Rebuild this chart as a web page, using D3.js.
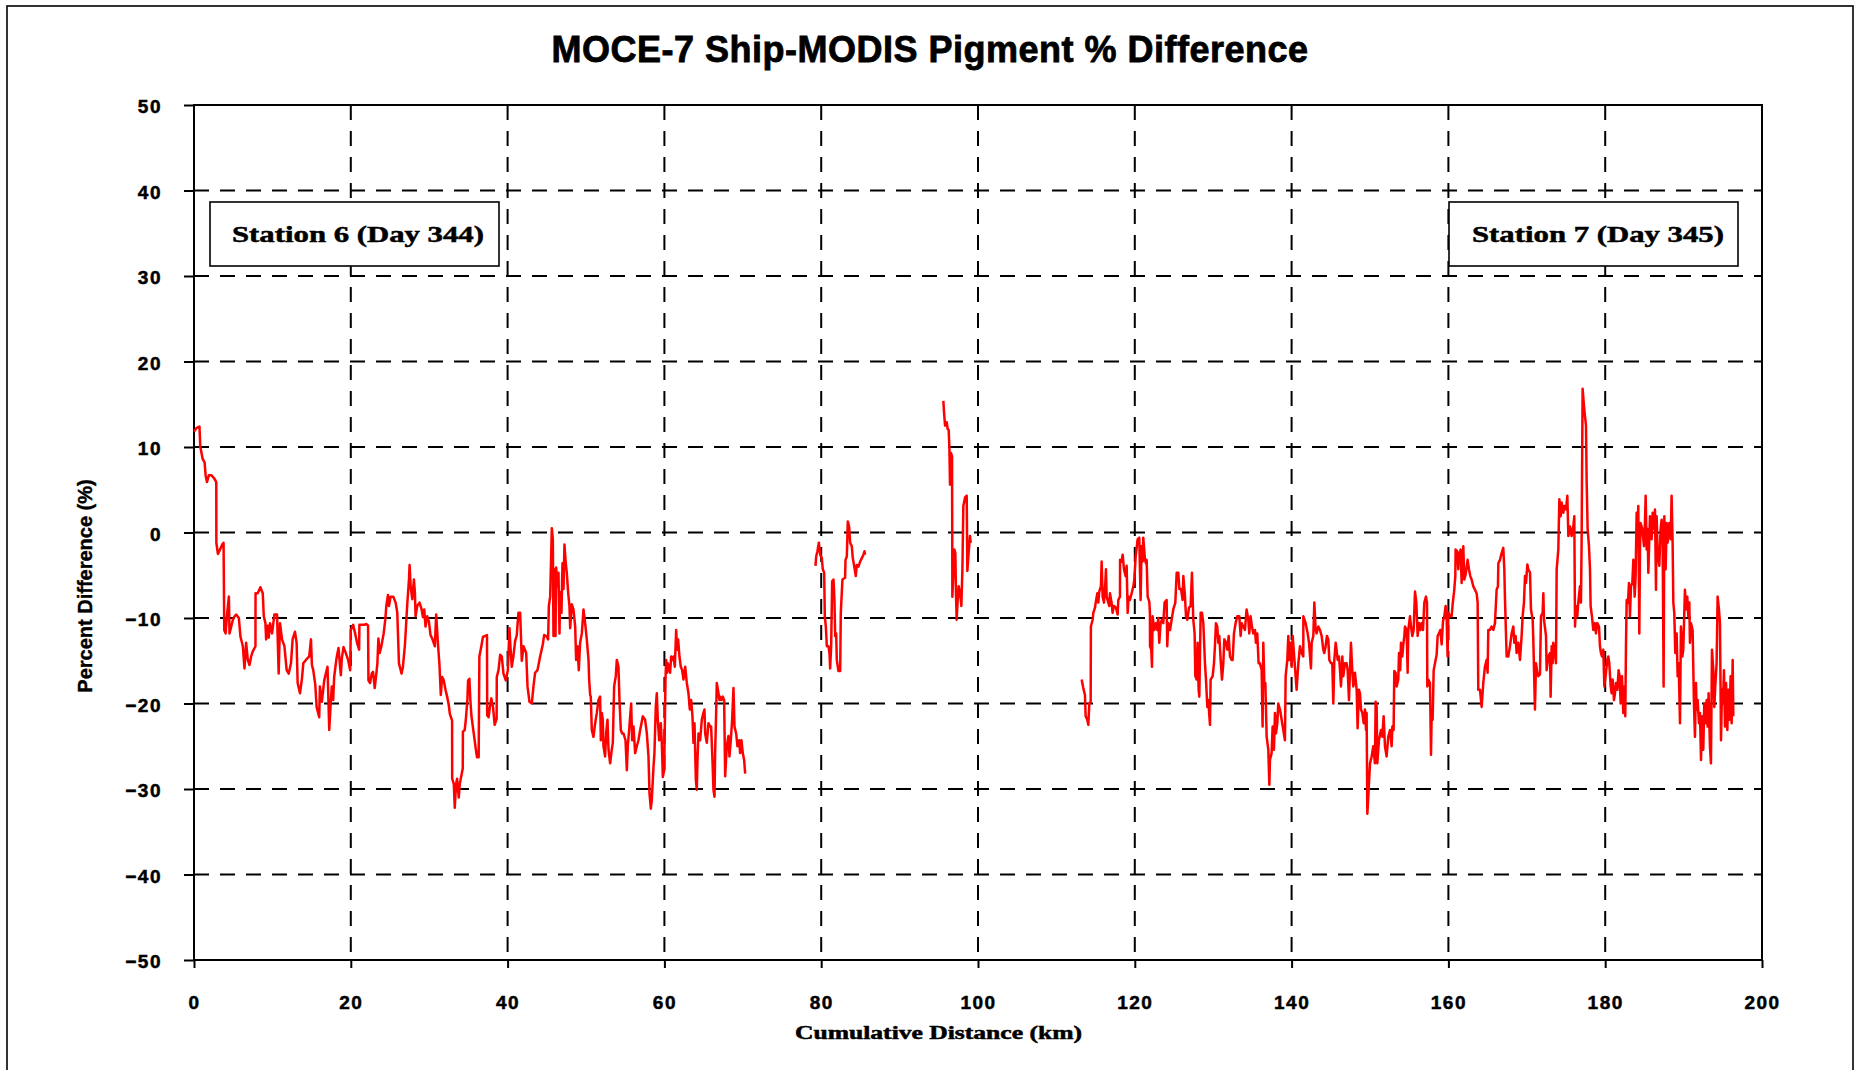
<!DOCTYPE html>
<html>
<head>
<meta charset="utf-8">
<script src="https://cdn.jsdelivr.net/npm/d3@7"></script>
<style>
  html, body { margin: 0; padding: 0; background: #fff; }
  svg { display: block; }
</style>
</head>
<body>
<svg id="chart" width="1857" height="1070"></svg>
<script>
// Ship-minus-satellite pigment percent difference along the cruise track, km vs %
const chartTitle = "MOCE-7 Ship-MODIS Pigment % Difference";
const xTitle = "Cumulative Distance (km)";
const yTitle = "Percent Difference (%)";
const xTicks = [0, 20, 40, 60, 80, 100, 120, 140, 160, 180, 200];
const yTicks = [-50, -40, -30, -20, -10, 0, 10, 20, 30, 40, 50];
const stationNotes = ["Station 6 (Day 344)", "Station 7 (Day 345)"];

// Transect leg 1 (Station 6, first part) [km, %]
const leg1 = [[0,11.8],[0.3,12.2],[0.7,12.4],[0.8,10],[0.9,9.6],[1.1,8.6],[1.35,8.2],[1.48,6.7],[1.65,5.9],[1.9,6.7],[2.2,6.7],[2.6,6.3],[2.84,5.9],[2.85,-1.2],[3.05,-2.5],[3.26,-2.1],[3.6,-1.4],[3.77,-1.2],[3.86,-11.4],[4.03,-11.8],[4.24,-9.4],[4.45,-7.5],[4.53,-11.8],[4.75,-11],[4.96,-10.2],[5.17,-9.8],[5.38,-9.6],[5.72,-10],[5.93,-12.2],[6.23,-13.3],[6.44,-15.9],[6.65,-12.9],[6.86,-14.9],[7.08,-15.5],[7.29,-14.5],[7.5,-13.9],[7.84,-13.3],[7.85,-7.1],[8.13,-7.1],[8.47,-6.4],[8.77,-7.1],[8.9,-9.8],[9.11,-10.6],[9.2,-12.5],[9.41,-10.9],[9.53,-12.3],[9.7,-10.6],[9.96,-11.8],[10.25,-9.6],[10.59,-9.6],[10.8,-16.5],[10.97,-10.6],[11.23,-12.5],[11.53,-13.3],[11.82,-16.1],[12.08,-16.5],[12.37,-15.3],[12.58,-12.5],[12.88,-11.6],[13.09,-12.9],[13.22,-17.6],[13.52,-18.8],[13.77,-17.1],[13.94,-15.3],[14.28,-14.9],[14.7,-14.5],[14.92,-12.5],[15.04,-15.5],[15.21,-16.1],[15.47,-17.8],[15.64,-20.4],[15.97,-21.6],[16.06,-18],[16.31,-19.8],[16.61,-17.3],[16.82,-16.5],[17.03,-15.7],[17.25,-23.1],[17.46,-19.6],[17.58,-18],[17.75,-19.6],[17.88,-16.9],[18.18,-14.7],[18.43,-13.5],[18.73,-16.7],[18.86,-14.7],[19.07,-13.4],[19.36,-14.1],[19.66,-14.9],[19.92,-16.1],[20,-11.4],[20.3,-10.8],[20.55,-11.8],[20.8,-12.9],[21.06,-13.7],[21.1,-10.8],[21.7,-10.8],[22,-10.7],[22.2,-10.9],[22.25,-17.3],[22.46,-17.6],[22.67,-16.5],[22.84,-16.3],[23.05,-18.2],[23.26,-16.5],[23.39,-15.3],[23.52,-12.4],[23.69,-14.1],[23.9,-13.3],[24.19,-11.8],[24.4,-10.2],[24.53,-8.6],[24.74,-7.3],[24.87,-8.6],[25.08,-7.5],[25.42,-7.5],[25.72,-8.2],[25.93,-9.4],[26.14,-15.3],[26.48,-16.5],[26.65,-15.7],[26.91,-13.1],[27.2,-8.4],[27.42,-5.5],[27.5,-3.8],[27.63,-6.3],[27.84,-7.8],[28.05,-5.5],[28.18,-7.1],[28.26,-9.8],[28.47,-8.6],[28.77,-8.2],[29.03,-9],[29.2,-9.9],[29.37,-9],[29.53,-11],[29.75,-9.8],[29.96,-10.4],[30.17,-12],[30.38,-12.4],[30.72,-13.3],[30.89,-9.6],[31.14,-13.3],[31.31,-15.5],[31.48,-19],[31.65,-16.9],[31.86,-17.3],[32.08,-18.4],[32.29,-19.2],[32.5,-20.2],[32.63,-21.2],[32.92,-22],[32.93,-28.8],[33.14,-29.4],[33.26,-32.2],[33.43,-29.4],[33.56,-28.8],[33.77,-31],[33.9,-29.4],[34.07,-28.6],[34.28,-27.6],[34.3,-23.3],[34.53,-23.1],[34.66,-22],[34.87,-19.6],[34.96,-17.3],[35.13,-17.1],[35.25,-19.6],[35.38,-21.4],[35.68,-23.5],[35.97,-25.5],[36.1,-26.3],[36.31,-26.3],[36.4,-14.5],[36.65,-13.3],[36.86,-12.2],[37.37,-12],[37.4,-21.4],[37.58,-21.6],[37.71,-20.6],[37.92,-19.4],[38.14,-20.4],[38.35,-22.5],[38.6,-21.8],[38.62,-16.9],[38.84,-16.1],[39.05,-14.3],[39.26,-14.5],[39.47,-16.5],[39.77,-17.3],[40.03,-16.1],[40.24,-11.2],[40.36,-13.3],[40.53,-15.7],[40.74,-14.5],[40.96,-12.7],[41.17,-12],[41.38,-9.4],[41.6,-9.4],[41.81,-15],[42.03,-13.3],[42.37,-14.1],[42.54,-18],[42.79,-19.8],[43.09,-20],[43.3,-18],[43.51,-16.4],[43.81,-16.1],[44.15,-14.5],[44.49,-13.1],[44.66,-12],[44.92,-12.1],[45.17,-12.5],[45.26,-8.6],[45.43,-7.5],[45.64,0.5],[45.77,-0.8],[45.85,-12.1],[45.98,-4.3],[46.11,-12.1],[46.19,-4.1],[46.36,-6.3],[46.49,-4.7],[46.62,-11.8],[46.7,-7],[46.87,-9.4],[47,-3.6],[47.13,-6.6],[47.25,-1.4],[47.42,-3.6],[47.55,-4.7],[47.72,-7],[47.89,-8.6],[47.98,-11.2],[48.19,-8.4],[48.4,-9],[48.62,-11],[48.74,-14.9],[48.91,-13.3],[49.08,-16.1],[49.25,-12.9],[49.47,-11.8],[49.68,-9],[49.89,-10.6],[50.1,-12.5],[50.32,-14.9],[50.4,-17.2],[50.53,-19],[50.61,-19.2],[50.74,-23.1],[50.95,-23.9],[51.17,-22.3],[51.38,-21.1],[51.59,-19.6],[51.8,-19.2],[51.89,-24.3],[52.02,-21.1],[52.14,-21.9],[52.23,-25],[52.44,-26.2],[52.57,-23.5],[52.74,-21.9],[52.87,-25.4],[53.08,-27],[53.29,-25.4],[53.42,-24.6],[53.59,-18],[53.8,-16.8],[53.93,-14.9],[54.14,-15.7],[54.27,-19.6],[54.44,-23.1],[54.61,-23.5],[54.78,-23.5],[55.04,-24.3],[55.21,-27.8],[55.33,-25],[55.5,-23.1],[55.76,-20],[55.89,-24.3],[56.06,-22.7],[56.27,-25.8],[56.48,-25],[56.69,-24.3],[56.91,-23.1],[57.25,-21.5],[57.54,-21.9],[57.76,-23.5],[57.97,-26.2],[58.1,-30.5],[58.27,-32.3],[58.39,-31.3],[58.61,-27.4],[58.73,-25.8],[58.9,-20.4],[59.03,-18.8],[59.16,-21.9],[59.33,-24.3],[59.54,-22.3],[59.67,-24.6],[59.8,-28.6],[59.97,-27.8],[60.14,-17.2],[60.22,-14.9],[60.35,-16.4],[60.43,-15.3],[60.6,-15.7],[60.73,-16.4],[60.86,-14.5],[61.03,-14.9],[61.16,-14.5],[61.33,-15.7],[61.5,-11.4],[61.63,-13.7],[61.75,-12.5],[61.92,-14.5],[62.09,-15.7],[62.26,-16.1],[62.43,-17.2],[62.65,-15.7],[62.86,-17.6],[63.07,-18.8],[63.24,-20.7],[63.41,-19.6],[63.58,-21.5],[63.71,-24.6],[63.84,-22.3],[64.01,-28.9],[64.13,-30.1],[64.22,-26.6],[64.35,-23.5],[64.56,-24.3],[64.77,-21.9],[64.98,-21.1],[65.11,-20.7],[65.2,-23.5],[65.41,-24.6],[65.62,-22.3],[65.83,-22.7],[65.96,-22.7],[66.13,-26.6],[66.26,-30.1],[66.39,-30.9],[66.47,-25.8],[66.6,-21.1],[66.68,-17.6],[66.9,-18.8],[67.02,-19.6],[67.11,-19.2],[67.28,-19.6],[67.45,-19.2],[67.62,-19.6],[67.75,-28.5],[67.96,-25],[68.17,-23.8],[68.3,-26.2],[68.47,-24.3],[68.64,-21.9],[68.81,-18.2],[68.94,-22.7],[69.15,-23.5],[69.32,-25],[69.53,-24.3],[69.66,-25.8],[69.83,-24.3],[70,-25.8],[70.17,-26.6],[70.3,-28.2]];

// Transect leg 2 [km, %]
const leg2 = [[79.27,-3.9],[79.36,-2.8],[79.52,-2.2],[79.7,-1.2],[79.87,-2.6],[80.08,-3],[80.2,-4.3],[80.38,-4.7],[80.46,-9.8],[80.59,-11],[80.72,-13.3],[80.93,-13.3],[81.06,-14.1],[81.14,-15.9],[81.27,-13.3],[81.4,-5.7],[81.57,-5.5],[81.69,-7.9],[81.78,-12.1],[81.91,-11.8],[81.99,-14.9],[82.2,-16.2],[82.42,-16.2],[82.5,-9.4],[82.71,-5.5],[83.05,-5.3],[83.1,-3.2],[83.27,-2.8],[83.39,1.3],[83.56,0.7],[83.69,-1.2],[83.9,-1.6],[84.03,-3],[84.24,-4.1],[84.41,-5.1],[84.54,-3.8],[84.75,-4],[84.97,-3.4],[85.18,-3],[85.39,-2.6],[85.52,-2.2],[85.6,-2.6]];

// Transect leg 3 [km, %]
const leg3 = [[95.58,15.4],[95.67,14],[95.8,12.5],[96.01,12.9],[96.13,12.1],[96.26,12],[96.35,9.9],[96.43,5.6],[96.56,9.3],[96.69,8.9],[96.73,-7.5],[96.86,-4.7],[96.99,-2],[97.11,-2.4],[97.2,-7.5],[97.28,-10.2],[97.41,-7.9],[97.54,-6.3],[97.71,-7.1],[97.88,-8.6],[98.01,-4.3],[98.13,3.1],[98.35,4.1],[98.56,4.3],[98.64,-4.5],[98.77,-2.8],[98.98,-0.4],[99.07,-1.2]];

// Transect leg 4 (toward Station 7) [km, %]
const leg4 = [[113.22,-17.2],[113.43,-18.2],[113.64,-19],[113.73,-21.5],[113.94,-21.9],[114.07,-22.5],[114.2,-20],[114.37,-19.8],[114.4,-11],[114.62,-10.2],[114.71,-9.4],[114.92,-8.8],[115.05,-8],[115.22,-7.1],[115.35,-8.2],[115.47,-6.9],[115.68,-6.3],[115.77,-3.4],[115.9,-7.5],[116.07,-8.2],[116.24,-5.9],[116.32,-4.3],[116.41,-7.5],[116.62,-8.2],[116.75,-8.6],[116.83,-7.1],[117.04,-8.2],[117.17,-9.4],[117.34,-8.6],[117.6,-8.8],[117.81,-9.6],[117.9,-7.9],[118.11,-7.5],[118.12,-3.2],[118.32,-3.4],[118.45,-2.6],[118.62,-4.3],[118.83,-5.1],[118.96,-3.9],[119.09,-9.4],[119.21,-7.5],[119.38,-7.9],[119.6,-7.1],[119.81,-6.3],[119.94,-5.5],[120.11,-2.8],[120.36,-0.8],[120.57,-0.6],[120.74,-7.9],[120.87,-1.6],[121,-3.4],[121.08,-0.6],[121.3,-3.2],[121.42,-3.6],[121.51,-3.2],[121.64,-7.5],[121.85,-8.1],[121.93,-9.4],[121.94,-13.3],[122.1,-13.7],[122.19,-15.7],[122.27,-9.8],[122.49,-11.4],[122.7,-10.6],[122.87,-11.4],[122.99,-10],[123.12,-12.9],[123.29,-10.6],[123.46,-10.2],[123.63,-10.6],[123.8,-8.2],[124.06,-7.9],[124.14,-13.3],[124.27,-10.6],[124.49,-11.4],[124.7,-10.2],[124.91,-9],[125.17,-8.2],[125.34,-4.7],[125.55,-4.7],[125.68,-6.6],[125.89,-6.6],[126.1,-7.9],[126.19,-5.1],[126.4,-7.5],[126.53,-9.8],[126.7,-10.2],[126.91,-8.8],[127.12,-8.6],[127.29,-4.7],[127.46,-10.2],[127.63,-11.8],[127.72,-16.8],[127.89,-17.2],[128.01,-12.9],[128.14,-18.4],[128.23,-19.2],[128.4,-9.4],[128.57,-9.4],[128.74,-10.6],[128.95,-15.3],[129.08,-17.2],[129.25,-20.4],[129.37,-19.6],[129.59,-22.5],[129.67,-17.2],[129.93,-16.8],[130.1,-15.3],[130.22,-13.3],[130.35,-10.6],[130.52,-11],[130.65,-12.9],[130.78,-12.1],[130.95,-14.9],[131.12,-17.2],[131.29,-15.3],[131.42,-12.5],[131.63,-12.9],[131.8,-13.7],[131.97,-12.1],[132.14,-14.5],[132.35,-14.9],[132.48,-14.9],[132.65,-11.8],[132.86,-10.6],[133.07,-9.8],[133.33,-9.8],[133.5,-12.1],[133.63,-10.6],[133.84,-11],[134.05,-11.4],[134.26,-9],[134.48,-10.2],[134.6,-11.8],[134.77,-9.8],[134.94,-11],[135.11,-11.8],[135.33,-11.4],[135.45,-12.9],[135.62,-11.8],[135.79,-15.3],[135.96,-15.3],[136.18,-16.1],[136.3,-22.7],[136.39,-12.9],[136.52,-17.6],[136.65,-17.6],[136.82,-23.9],[137.03,-25.4],[137.16,-29.5],[137.24,-26.6],[137.45,-25.8],[137.58,-22.7],[137.75,-25.4],[137.88,-21.1],[138.01,-23.5],[138.18,-22.3],[138.3,-20],[138.52,-20.7],[138.73,-21.9],[138.94,-23.1],[139.15,-24.3],[139.24,-16.8],[139.45,-14.9],[139.58,-12.1],[139.71,-14.9],[139.88,-12.9],[140.01,-15.7],[140.14,-12.1],[140.64,-18.4],[140.86,-15.3],[141.07,-13.3],[141.28,-14.1],[141.49,-14.5],[141.5,-9.8],[141.79,-10.6],[142.05,-11.8],[142.22,-12.9],[142.47,-15.9],[142.56,-12.9],[142.77,-12.1],[142.9,-8.2],[143.07,-11.4],[143.19,-11.8],[143.41,-11],[143.62,-11.4],[143.83,-12.1],[144.04,-13.7],[144.17,-14.1],[144.34,-13.3],[144.51,-12.1],[144.68,-12.5],[144.81,-14.9],[145.02,-15.3],[145.19,-15.3],[145.32,-20],[145.45,-14.9],[145.62,-12.9],[145.74,-13.7],[145.87,-14.9],[146.04,-14.5],[146.17,-16.1],[146.3,-18],[146.47,-14.5],[146.6,-16.8],[146.81,-15.3],[147.02,-15.3],[147.15,-16.1],[147.32,-19.6],[147.57,-12.9],[147.74,-16.1],[147.87,-18],[148.08,-16.4],[148.3,-18.4],[148.42,-22.9],[148.59,-18.4],[148.72,-18.8],[148.85,-20.7],[149.02,-21.1],[149.19,-22.3],[149.36,-20.7],[149.49,-23.1],[149.57,-21.1],[149.66,-32.9],[149.78,-30.9],[150,-27],[150.21,-26.2],[150.42,-25],[150.63,-27],[150.72,-19.8],[150.85,-20.4],[150.93,-27],[151.14,-24.3],[151.4,-23.1],[151.57,-23.9],[151.74,-21.5],[151.91,-25],[152.12,-26.2],[152.33,-23.9],[152.55,-23.1],[152.76,-25],[152.85,-22.7],[153.01,-23.1],[153.1,-16.2],[153.27,-16.4],[153.4,-18],[153.61,-17.2],[153.7,-14.1],[153.86,-16.1],[153.95,-12.9],[154.12,-14.5],[154.25,-13.1],[154.38,-12.1],[154.46,-11],[154.67,-11.4],[154.8,-16.4],[154.89,-11.4],[155.1,-9.8],[155.23,-11],[155.4,-12.1],[155.57,-11.4],[155.74,-6.9],[155.91,-8.2],[156.08,-12.1],[156.25,-10.6],[156.42,-11.4],[156.59,-10.6],[156.76,-11.4],[156.93,-8.2],[157.14,-7.5],[157.27,-8.2],[157.31,-18],[157.44,-17.2],[157.65,-17.6],[157.78,-26],[157.86,-21.5],[157.99,-21.9],[158.12,-16.1],[158.29,-15.3],[158.5,-14.3],[158.63,-12.1],[158.8,-11.8],[158.97,-11.4],[159.14,-13.1],[159.31,-10.4],[159.48,-9.8],[159.65,-8.6],[159.77,-9.8],[159.9,-14.5],[159.99,-9.4],[160.2,-9.8],[160.41,-9.8],[160.54,-8.4],[160.75,-6.7],[160.88,-5.1],[160.92,-2],[161.14,-2.2],[161.26,-4.3],[161.35,-2.8],[161.56,-2],[161.69,-5.9],[161.9,-1.6],[162.03,-5.5],[162.2,-4.9],[162.45,-3.2],[162.62,-4.3],[162.79,-5.1],[162.96,-5.5],[163.18,-6.3],[163.39,-6.7],[163.6,-7.1],[163.73,-8.2],[163.81,-18.4],[164.03,-18.4],[164.24,-20.4],[164.45,-17.6],[164.66,-15.7],[164.88,-14.9],[165,-16.4],[165.09,-11.4],[165.3,-11.4],[165.51,-11],[165.73,-11.4],[165.94,-10.6],[166.15,-6.7],[166.32,-6.3],[166.37,-3.6],[166.58,-3.2],[166.79,-2.4],[167,-1.8],[167.13,-4.3],[167.22,-7.9],[167.43,-14.5],[167.64,-14.5],[167.85,-13.3],[168.07,-11.8],[168.28,-11],[168.41,-12.9],[168.58,-12.1],[168.7,-14.1],[168.92,-12.9],[169.13,-14.9],[169.34,-12.1],[169.47,-9.8],[169.64,-8.2],[169.77,-5.1],[169.9,-5.9],[170.07,-3.75],[170.19,-4.3],[170.41,-4.7],[170.53,-9],[170.75,-10.2],[170.83,-12.5],[171.04,-20.7],[171.17,-15.3],[171.34,-16.4],[171.47,-16.8],[171.68,-16.6],[171.81,-9.8],[172.02,-9.4],[172.11,-7.1],[172.19,-10.2],[172.45,-12.1],[172.53,-16.1],[172.74,-14.5],[172.96,-14.1],[173.04,-19.2],[173.17,-13.3],[173.3,-15.3],[173.38,-12.9],[173.59,-14.1],[173.72,-15.3],[173.81,-4.3],[174.02,-2],[174.15,3.9],[174.32,1.9],[174.44,3.5],[174.66,2.3],[174.78,3.1],[175,2.7],[175.17,4.3],[175.3,-0.4],[175.51,0.7],[175.72,-0.4],[175.93,0.7],[176.06,1.9],[176.15,-11],[176.27,-8.6],[176.44,-9.8],[176.57,-8.2],[176.78,-6.3],[176.91,-8.2],[176.99,-1.2],[177.12,16.8],[177.29,14.8],[177.42,13.6],[177.55,12.5],[177.63,6.2],[177.76,0.4],[177.93,-1.6],[178.06,-4.3],[178.14,-8.6],[178.31,-9.8],[178.48,-11.4],[178.7,-10.6],[178.82,-11.8],[178.99,-10.6],[179.21,-11],[179.33,-13.3],[179.46,-14.1],[179.59,-14.5],[179.76,-13.7],[179.89,-18],[180.1,-16.4],[180.27,-14.9],[180.4,-14.5],[180.52,-15.3],[180.7,-18],[180.82,-18.8],[180.95,-17.2],[181.12,-19.6],[181.25,-18.8],[181.37,-17.6],[181.55,-18.4],[181.71,-16.1],[181.84,-16.8],[181.97,-20],[182.14,-16.8],[182.31,-21.1],[182.44,-18],[182.56,-21.5],[182.65,-13.3],[182.74,-7.9],[182.91,-8.2],[183.03,-5.9],[183.16,-9.8],[183.29,-6.3],[183.46,-5.9],[183.59,-3.2],[183.76,-7.5],[183.88,-5.1],[184.01,2.3],[184.14,0.7],[184.22,3.1],[184.35,-11.8],[184.44,-2],[184.52,1.1],[184.73,0.4],[184.95,-1.6],[185.07,1.1],[185.16,4.3],[185.29,-2],[185.41,0.4],[185.5,-4.7],[185.71,1.9],[185.92,-0.8],[186.05,2.3],[186.22,0.4],[186.35,2.7],[186.48,-6.7],[186.56,1.9],[186.69,-2.4],[186.9,-3.9],[187.07,0.4],[187.2,1.5],[187.33,-1.2],[187.45,-18],[187.54,1.9],[187.71,-4.3],[187.84,1.1],[187.96,-1.2],[188.18,1.1],[188.35,-0.8],[188.47,4.3],[188.6,-1.2],[188.69,-8.2],[188.81,-9.4],[188.94,-14.1],[189.11,-11.8],[189.24,-16.8],[189.37,-15.3],[189.54,-22.3],[189.66,-11],[189.84,-14.5],[189.96,-13.7],[190.17,-6.7],[190.3,-9],[190.47,-7.5],[190.6,-9.8],[190.73,-8.2],[190.81,-12.9],[190.94,-10.6],[191.15,-11.4],[191.32,-20],[191.45,-23.9],[191.58,-17.6],[191.66,-20.7],[191.79,-19.6],[191.96,-22.3],[192.09,-21.1],[192.22,-26.6],[192.34,-21.5],[192.51,-25.4],[192.64,-20],[192.81,-22.3],[192.94,-19.6],[193.07,-22.7],[193.19,-18.8],[193.36,-25],[193.49,-27],[193.62,-13.7],[193.79,-16.1],[193.92,-20.4],[194.04,-18],[194.21,-15.3],[194.34,-7.5],[194.51,-9],[194.64,-10.6],[194.77,-24.3],[194.9,-18.4],[195.02,-20],[195.15,-16.1],[195.28,-22.7],[195.41,-17.6],[195.58,-23.1],[195.7,-18.4],[195.83,-21.9],[196,-16.8],[196.13,-22.3],[196.26,-14.9],[196.34,-21.5]];

const legs = [leg1, leg2, leg3, leg4];

const svg = d3.select("#chart");
const plot = { left: 194, right: 1762, top: 105, bottom: 960 };

const x = d3.scaleLinear().domain([0, 200]).range([plot.left, plot.right]);
const y = d3.scaleLinear().domain([-50, 50]).range([plot.bottom, plot.top]);

// Outer chart frame (runs past the lower edge of the page)
svg.append("rect")
  .attr("x", 7).attr("y", 6).attr("width", 1846).attr("height", 1100)
  .attr("fill", "#fff").attr("stroke", "#000").attr("stroke-width", 1.6);

// Title
svg.append("text")
  .attr("x", 930).attr("y", 62)
  .attr("text-anchor", "middle")
  .style("font-family", "'Liberation Sans', Arial, sans-serif")
  .style("font-weight", "bold")
  .style("font-size", "36px")
  .style("letter-spacing", "0.5px")
  .attr("stroke", "#000").attr("stroke-width", 0.8)
  .text(chartTitle);

// Dashed grid
const grid = svg.append("g").attr("stroke", "#000").attr("stroke-width", 2)
  .attr("stroke-dasharray", "15,11").attr("fill", "none");
grid.selectAll("line.v").data(xTicks.slice(1, -1)).join("line")
  .attr("class", "v")
  .attr("x1", d => x(d)).attr("x2", d => x(d))
  .attr("y1", y(50)).attr("y2", y(-50));
grid.selectAll("line.h").data(yTicks.slice(1, -1)).join("line")
  .attr("class", "h")
  .attr("x1", x(0)).attr("x2", x(200))
  .attr("y1", d => y(d)).attr("y2", d => y(d));

// Axes
const axisFont = g => g.selectAll("text")
  .style("font-family", "'Liberation Sans', Arial, sans-serif")
  .style("font-weight", "bold")
  .style("font-size", "19px")
  .style("letter-spacing", "1.5px")
  .attr("fill", "#000")
  .attr("stroke", "#000")
  .attr("stroke-width", 0.5);

const yAxis = svg.append("g")
  .attr("transform", `translate(${plot.left},0)`)
  .call(d3.axisLeft(y).tickValues(yTicks).tickSize(10).tickPadding(22).tickFormat(d3.format("d")));
yAxis.select(".domain").remove();
yAxis.selectAll(".tick line").attr("stroke", "#000").attr("stroke-width", 2);
yAxis.call(axisFont);
yAxis.selectAll("text").attr("dy", "0.42em");

const xAxis = svg.append("g")
  .attr("transform", `translate(0,${plot.bottom})`)
  .call(d3.axisBottom(x).tickValues(xTicks).tickSize(8).tickPadding(28).tickFormat(d3.format("d")));
xAxis.select(".domain").remove();
xAxis.selectAll(".tick line").attr("stroke", "#000").attr("stroke-width", 2);
xAxis.call(axisFont);

// Plot frame
svg.append("rect")
  .attr("x", plot.left).attr("y", plot.top)
  .attr("width", plot.right - plot.left).attr("height", plot.bottom - plot.top)
  .attr("fill", "none").attr("stroke", "#000").attr("stroke-width", 2);

// Axis titles
svg.append("text")
  .attr("transform", "translate(92,586) rotate(-90)")
  .attr("text-anchor", "middle")
  .style("font-family", "'Liberation Sans', Arial, sans-serif")
  .style("font-weight", "bold")
  .style("font-size", "20px")
  .attr("stroke", "#000").attr("stroke-width", 0.4)
  .text(yTitle);

svg.append("text")
  .attr("x", 795).attr("y", 1039)
  .attr("textLength", 287).attr("lengthAdjust", "spacingAndGlyphs")
  .style("font-family", "'Liberation Serif', 'Times New Roman', serif")
  .style("font-weight", "bold")
  .style("font-size", "18px")
  .attr("stroke", "#000").attr("stroke-width", 0.5)
  .text(xTitle);

// Percent difference trace, one path per transect leg
const line = d3.line().x(d => x(d[0])).y(d => y(d[1]));
svg.append("g").selectAll("path").data(legs).join("path")
  .attr("d", line)
  .attr("fill", "none")
  .attr("stroke", "#ff0000")
  .attr("stroke-width", 2.5)
  .attr("stroke-linejoin", "round");

// Station annotation boxes
const notes = [
  { text: stationNotes[0], bx: 210, tx: 232 },
  { text: stationNotes[1], bx: 1449, tx: 1472 }
];
const noteG = svg.append("g");
notes.forEach(n => {
  noteG.append("rect")
    .attr("x", n.bx).attr("y", 202).attr("width", 289).attr("height", 64)
    .attr("fill", "#fff").attr("stroke", "#000").attr("stroke-width", 1.6);
  noteG.append("text")
    .attr("x", n.tx).attr("y", 242)
    .attr("textLength", 252).attr("lengthAdjust", "spacingAndGlyphs")
    .style("font-family", "'Liberation Serif', 'Times New Roman', serif")
    .style("font-weight", "bold")
    .style("font-size", "23px")
    .attr("stroke", "#000").attr("stroke-width", 0.5)
    .text(n.text);
});
</script>
</body>
</html>
